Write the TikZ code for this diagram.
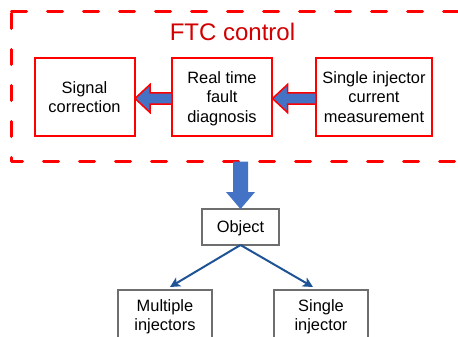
\documentclass[tikz,border=0pt]{standalone}
\usepackage{fontspec}
\setmainfont{Liberation Sans}
\usetikzlibrary{arrows.meta,calc}
\definecolor{ftcred}{RGB}{255,0,0}
\definecolor{ftctext}{RGB}{210,0,0}
\definecolor{fatblue}{RGB}{68,114,196}
\definecolor{connblue}{RGB}{30,84,150}
\definecolor{boxgray}{RGB}{110,110,110}
\begin{document}
\begin{tikzpicture}[x=1pt,y=1pt,
  txt/.style={font=\fontsize{16.4pt}{19.5pt}\selectfont, align=center, text depth=0pt},
  redbox/.style={txt, draw=ftcred, line width=2pt, outer sep=0pt, inner sep=0pt, minimum height=78pt},
  graybox/.style={txt, draw=boxgray, line width=1.3pt, outer sep=0pt, inner sep=0pt},
  ftcframe/.style={draw=ftcred, line width=3pt, dash pattern=on 15pt off 21pt, line cap=round, line join=round},
  fatarrow/.style={fill=fatblue, draw=ftcred, line width=1.5pt, line join=miter},
  fatdown/.style={fill=fatblue, draw=none},
  conn/.style={draw=connblue, line width=2pt, -{Stealth[length=10pt,width=10pt,inset=2.5pt]}}
]
\useasboundingbox (0,0) rectangle (458,-337);
\clip (0,0) rectangle (458,-337);
\fill[white] (0,0) rectangle (458,-337);

% dashed FTC frame
\draw[ftcframe] (11.5,-11.5) -- (464,-11.5) -- (464,-161.5) -- (11.5,-161.5) -- cycle;
\coordinate (ftcbottom) at (240.5,-161.5);
\node[font=\fontsize{24pt}{28pt}\selectfont, text=ftctext, anchor=base, inner sep=0pt] (ftclabel) at (232.5,-41) {FTC control};

% top boxes
\node[redbox, minimum width=100pt] (sc) at (84.5,-97) {Signal\\correction};
\node[redbox, minimum width=100pt] (rtfd) at (222,-97) {Real time\\fault\\diagnosis};
\node[redbox, minimum width=116pt] (scm) at (374,-97) {Single injector\\current\\measurement};

% fat arrows
\draw[fatarrow] ([yshift=4pt]rtfd.west) -- ([xshift=15.5pt,yshift=4pt]sc.east) -- ([xshift=15.5pt,yshift=12.5pt]sc.east) -- ([xshift=0.5pt,yshift=-1.5pt]sc.east) -- ([xshift=15.5pt,yshift=-15.5pt]sc.east) -- ([xshift=15.5pt,yshift=-7pt]sc.east) -- ([yshift=-7pt]rtfd.west) -- cycle;
\draw[fatarrow] ([yshift=4pt]scm.west) -- ([xshift=15.5pt,yshift=4pt]rtfd.east) -- ([xshift=15.5pt,yshift=12.5pt]rtfd.east) -- ([xshift=0.5pt,yshift=-1.5pt]rtfd.east) -- ([xshift=15.5pt,yshift=-15.5pt]rtfd.east) -- ([xshift=15.5pt,yshift=-7pt]rtfd.east) -- ([yshift=-7pt]scm.west) -- cycle;

% object and children
\node[graybox, minimum width=77pt, minimum height=36pt] (obj) at (240.5,-227) {Object};
\node[graybox, minimum width=94pt, minimum height=50pt] (mi) at (165,-315) {Multiple\\injectors};
\node[graybox, minimum width=94pt, minimum height=50pt] (si) at (321,-315) {Single\\injector};

% big down arrow
\fill[fatdown] ([xshift=-7.5pt]ftcbottom) -- ([xshift=-7.5pt,yshift=-30.5pt]ftcbottom) -- ([xshift=-14.5pt,yshift=-30.5pt]ftcbottom) -- (obj.north) -- ([xshift=14.5pt,yshift=-30.5pt]ftcbottom) -- ([xshift=7.5pt,yshift=-30.5pt]ftcbottom) -- ([xshift=7.5pt]ftcbottom) -- cycle;

% connectors
\draw[conn] (obj.south) -- ([xshift=5pt,yshift=3pt]mi.north);
\draw[conn] (obj.south) -- ([xshift=-8pt,yshift=3pt]si.north);
\end{tikzpicture}
\end{document}
